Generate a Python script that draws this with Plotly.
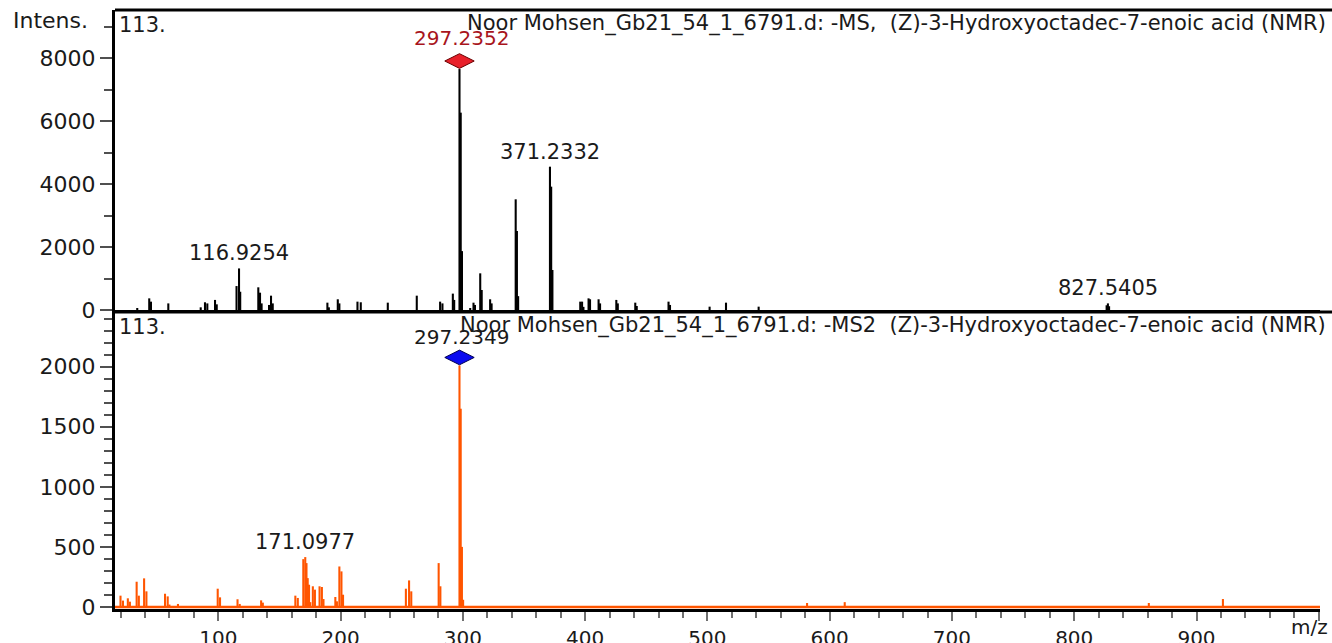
import plotly.graph_objects as go

# ---------------- data ----------------
ms1_mz = [33.7, 43.5, 44.9, 59.1, 85.6, 89.1, 91.0, 97.3, 98.7, 114.9, 116.93, 117.9,
          132.7, 134.1, 135.4, 141.5, 143.1, 144.5, 189.2, 190.4, 197.7, 199.0, 213.8,
          216.5, 238.6, 262.3, 281.4, 283.3, 291.8, 292.9, 297.24, 298.24, 299.24, 306.0,
          308.7, 309.9, 314.2, 315.4, 322.3, 323.5, 343.2, 344.2, 345.2, 371.23, 372.23,
          373.23, 396.0, 397.5, 398.6, 402.8, 404.0, 411.0, 412.2, 425.5, 426.7, 441.0,
          442.2, 468.2, 469.4, 501.8, 515.2, 541.9, 826.5, 827.54, 828.5]
ms1_int = [50, 370, 265, 210, 85, 245, 210, 320, 180, 760, 1320, 580,
           720, 550, 210, 160, 455, 210, 233, 85, 340, 210, 265,
           245, 233, 455, 265, 210, 520, 320, 7650, 6265, 1870, 50,
           233, 160, 1164, 635, 340, 210, 3514, 2508, 440, 4550, 3916,
           1270, 265, 265, 100, 370, 340, 340, 210, 320, 210, 233,
           127, 265, 160, 106, 233, 106, 150, 210, 120]

ms2_mz = [20.0, 22.0, 26.0, 27.7, 33.2, 35.0, 39.3, 41.2, 56.4, 58.6, 60.0, 67.0,
          99.5, 101.4, 115.7, 117.5, 135.0, 136.4, 163.0, 165.0, 169.5, 171.1, 172.1,
          173.1, 174.2, 175.2, 177.3, 179.0, 182.8, 184.7, 186.0, 195.7, 197.0, 199.0,
          200.7, 202.0, 253.4, 256.0, 257.8, 280.2, 281.6, 297.23, 298.23, 299.23, 300.2,
          581.5, 612.3, 861.0, 921.6]
ms2_int = [94, 53, 72, 44, 210, 94, 238, 130, 110, 88, 20, 25,
           152, 80, 64, 25, 55, 36, 94, 75, 398, 415, 365,
           240, 185, 40, 172, 144, 172, 166, 66, 83, 47, 337,
           296, 102, 152, 221, 130, 365, 172, 2010, 1650, 500, 60,
           33, 40, 33, 66]

ms1_labels_mz = [116.9254, 297.2352, 371.2332, 827.5405]
ms1_labels_int = [1320, 7650, 4550, 210]
ms2_labels_mz = [171.0977, 297.2349]
ms2_labels_int = [415, 2010]

precursor_ms1 = (297.2352, 7650)
precursor_ms2 = (297.2349, 2010)

title_ms1 = "Noor Mohsen_Gb21_54_1_6791.d: -MS,  (Z)-3-Hydroxyoctadec-7-enoic acid (NMR)"
title_ms2 = "Noor Mohsen_Gb21_54_1_6791.d: -MS2  (Z)-3-Hydroxyoctadec-7-enoic acid (NMR)"
compound_no = "113."

x_range = [15.5, 1001]
y1_range = [0, 9524]
y2_range = [-17, 2455]

# ---------------- figure ----------------
FONT = "DejaVu Sans"
W, H = 1332, 643
ML, MR, MT, MB = 115, 12, 10, 34
AXIS_Y = H - MB
plot_h = H - MT - MB
top_dom = [(AXIS_Y - 310) / plot_h, 1.0]
bot_dom = [0.0, (AXIS_Y - 312) / plot_h]

fig = go.Figure()
fig.add_trace(go.Bar(x=ms1_mz, y=ms1_int, width=1.7, marker=dict(color="#000000", line=dict(width=0)),
                     xaxis="x", yaxis="y", showlegend=False, hoverinfo="x+y"))
fig.add_trace(go.Bar(x=ms2_mz, y=ms2_int, width=1.7, marker=dict(color="#FF5500", line=dict(width=0)),
                     xaxis="x2", yaxis="y2", showlegend=False, hoverinfo="x+y"))

# precursor diamonds (offset a few pixels above the peak)
px1 = (y1_range[1] - y1_range[0]) / 300
px2 = (y2_range[1] - y2_range[0]) / 297
fig.add_trace(go.Scatter(x=[precursor_ms1[0]], y=[precursor_ms1[1] + 8 * px1], mode="markers",
                         marker=dict(symbol="diamond-wide", size=21, color="#E8202A",
                                     line=dict(color="#6a0000", width=1)),
                         xaxis="x", yaxis="y", showlegend=False, cliponaxis=False))
fig.add_trace(go.Scatter(x=[precursor_ms2[0]], y=[precursor_ms2[1] + 8 * px2], mode="markers",
                         marker=dict(symbol="diamond-wide", size=21, color="#0A0AF0",
                                     line=dict(color="#000050", width=1)),
                         xaxis="x2", yaxis="y2", showlegend=False, cliponaxis=False))

annotations = []
for m, v in zip(ms1_labels_mz, ms1_labels_int):
    is_prec = abs(m - precursor_ms1[0]) < 0.01
    annotations.append(dict(x=m, y=v, xref="x", yref="y", text=f"{m:.4f}", showarrow=False,
                            yanchor="bottom", yshift=17 if is_prec else 1, xshift=2 if is_prec else 0,
                            font=dict(family=FONT, size=20 if is_prec else 21,
                                      color="#A8141C" if is_prec else "#1a1a1a")))
for m, v in zip(ms2_labels_mz, ms2_labels_int):
    is_prec = abs(m - precursor_ms2[0]) < 0.01
    annotations.append(dict(x=m, y=v, xref="x2", yref="y2", text=f"{m:.4f}", showarrow=False,
                            yanchor="bottom", yshift=14 if is_prec else 1, xshift=2 if is_prec else 0,
                            font=dict(family=FONT, size=20 if is_prec else 21, color="#1a1a1a")))

for dom, title in [(top_dom, title_ms1), (bot_dom, title_ms2)]:
    annotations.append(dict(x=1.0065, y=dom[1], xref="paper", yref="paper", text=title, showarrow=False,
                            xanchor="right", yanchor="top", yshift=1,
                            font=dict(family=FONT, size=21, color="#1a1a1a")))
    annotations.append(dict(x=0.002, y=dom[1], xref="paper", yref="paper", text=compound_no,
                            showarrow=False, xanchor="left", yanchor="top", yshift=-1,
                            font=dict(family=FONT, size=21, color="#1a1a1a")))

annotations.append(dict(x=(11 - ML) / (W - ML - MR), y=1.0, xref="paper", yref="paper", text="Intens.",
                        showarrow=False, xanchor="left", yanchor="middle", yshift=-10,
                        font=dict(family=FONT, size=22, color="#1a1a1a")))
annotations.append(dict(x=1.0085, y=0, xref="paper", yref="paper", text="m/z", showarrow=False,
                        xanchor="right", yanchor="top", yshift=-4,
                        font=dict(family=FONT, size=20, color="#1a1a1a")))

axis_line = dict(showline=True, linecolor="#000000", linewidth=3, zeroline=False, showgrid=False,
                 automargin=False)

fig.update_layout(
    width=W, height=H,
    margin=dict(l=ML, r=MR, t=MT, b=MB, autoexpand=False),
    paper_bgcolor="white", plot_bgcolor="white",
    barmode="overlay",
    showlegend=False,
    font=dict(family=FONT, size=19, color="#1a1a1a"),
    xaxis=dict(domain=[0, 1], anchor="y", range=x_range, showticklabels=False, ticks="",
               **axis_line),
    xaxis2=dict(domain=[0, 1], anchor="y2", range=x_range, matches="x",
                ticks="outside", tickmode="linear", tick0=0, dtick=100, ticklen=9, tickwidth=2,
                tickcolor="#707070", tickfont=dict(family=FONT, size=20, color="#1a1a1a"),
                minor=dict(ticks="outside", dtick=20, ticklen=6, tickwidth=2, tickcolor="#707070"),
                **axis_line),
    yaxis=dict(domain=top_dom, anchor="x", range=y1_range, ticks="outside", tickmode="linear",
               tick0=0, dtick=2000, ticklen=12, tickwidth=2, tickcolor="#505050",
               tickfont=dict(family=FONT, size=22, color="#1a1a1a"),
               minor=dict(ticks="outside", dtick=1000, ticklen=8, tickwidth=2, tickcolor="#505050"),
               **axis_line),
    yaxis2=dict(domain=bot_dom, anchor="x2", range=y2_range, ticks="outside", tickmode="linear",
                tick0=0, dtick=500, ticklen=12, tickwidth=2, tickcolor="#505050",
                tickfont=dict(family=FONT, size=22, color="#1a1a1a"),
                minor=dict(ticks="outside", dtick=100, ticklen=8, tickwidth=2, tickcolor="#505050"),
                **axis_line),
    annotations=annotations,
)

# frame lines (top of each panel, extending to the right edge) and MS2 baseline
x_right = (W - ML) / (W - ML - MR)
shapes = [
    dict(type="line", xref="paper", yref="paper", x0=0, x1=x_right, y0=top_dom[1], y1=top_dom[1],
         line=dict(color="#000000", width=3)),
    dict(type="line", xref="paper", yref="paper", x0=0, x1=x_right, y0=bot_dom[1], y1=bot_dom[1],
         line=dict(color="#000000", width=3)),
    dict(type="line", xref="x2 domain", yref="y2", x0=0, x1=1, y0=0, y1=0,
         line=dict(color="#FF5500", width=2.5)),
]
fig.update_layout(shapes=shapes)

fig.write_html("out.html", config={"displayModeBar": False},
               post_script="document.body.style.margin='0';document.body.style.padding='0';"
                           "document.body.style.overflow='hidden';")
